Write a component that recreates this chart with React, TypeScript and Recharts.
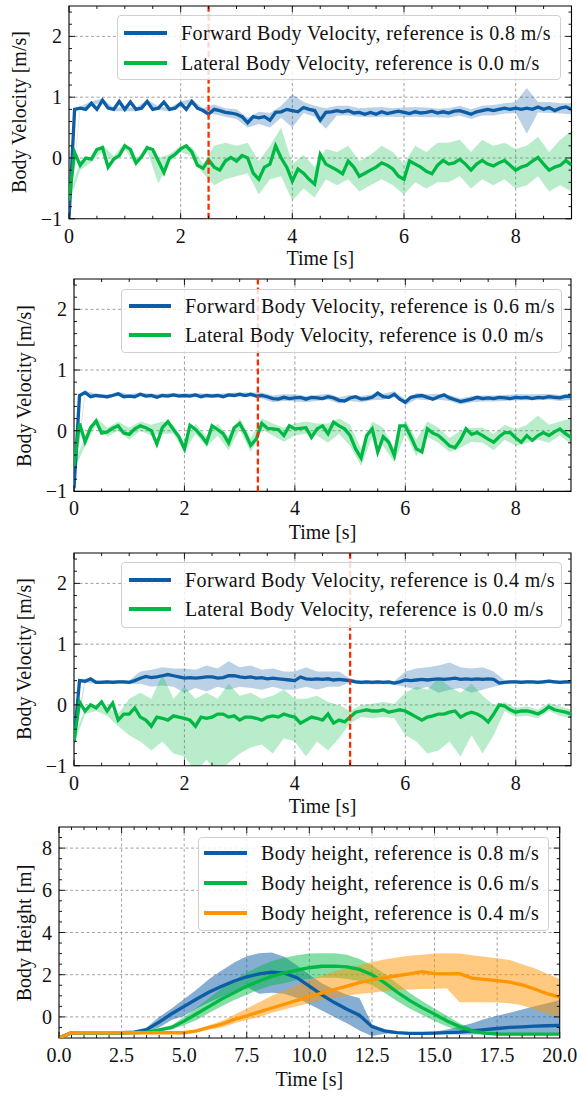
import React from "react";
import {
  ComposedChart, Line, Area, XAxis, YAxis, CartesianGrid, ReferenceLine, ReferenceArea,
} from "recharts";

const FONT = '"Liberation Serif", "Times New Roman", serif';
const BLUE = "#0C5DA5";
const GREEN = "#00B945";
const ORANGE = "#FF9500";
const RED = "#FF2C00";

// time grids: lines every 0.1 s, bands every 0.2 s, body height every 0.5 s
const grid = (n: number, dt: number) => Array.from({ length: n }, (_, i) => Math.round(i * dt * 100) / 100);
const T_LINE = grid(91, 0.1);
const T_BAND = grid(46, 0.2);
const T_H = grid(41, 0.5);

// ---------- run 1: forward reference 0.8 m/s ----------
const fwd08 = [
  -1.0, 0.8, 0.82, 0.8, 0.9, 0.8, 0.95, 0.82, 0.8, 0.93,
  0.8, 0.92, 0.8, 0.82, 0.93, 0.8, 0.82, 0.92, 0.8, 0.82,
  0.9, 0.8, 0.93, 0.82, 0.78, 0.72, 0.8, 0.78, 0.75, 0.74,
  0.72, 0.68, 0.58, 0.68, 0.66, 0.68, 0.62, 0.75, 0.76, 0.8,
  0.78, 0.76, 0.83, 0.8, 0.78, 0.62, 0.75, 0.76, 0.78, 0.76,
  0.78, 0.74, 0.75, 0.72, 0.75, 0.72, 0.76, 0.73, 0.75, 0.77,
  0.75, 0.73, 0.76, 0.74, 0.75, 0.77, 0.74, 0.76, 0.74, 0.77,
  0.78, 0.75, 0.72, 0.76, 0.78, 0.8, 0.78, 0.8, 0.82, 0.8,
  0.82, 0.8, 0.82, 0.8, 0.84, 0.8, 0.83, 0.78, 0.82, 0.84,
  0.8,
];
const fwd08Lo = [
  -1.0, 0.79, 0.86, 0.92, 0.77, 0.77, 0.77, 0.9, 0.79, 0.77,
  0.87, 0.88, 0.75, 0.72, 0.68, 0.64, 0.5, 0.56, 0.5, 0.66,
  0.5, 0.74, 0.68, 0.48, 0.7, 0.7, 0.68, 0.67, 0.68, 0.68,
  0.67, 0.68, 0.67, 0.67, 0.66, 0.7, 0.64, 0.7, 0.7, 0.73,
  0.74, 0.4, 0.75, 0.74, 0.73, 0.72,
];
const fwd08Hi = [
  -0.9, 0.85, 0.93, 0.98, 0.83, 0.83, 0.83, 0.96, 0.85, 0.83,
  0.93, 0.97, 0.82, 0.88, 0.82, 0.8, 0.66, 0.76, 0.74, 0.86,
  1.05, 0.92, 0.86, 0.82, 0.86, 0.86, 0.82, 0.83, 0.84, 0.82,
  0.83, 0.84, 0.83, 0.81, 0.82, 0.86, 0.8, 0.86, 0.87, 0.9,
  0.92, 1.15, 0.92, 0.92, 0.9, 0.9,
];
const lat08 = [
  -0.7, 0.09, -0.12, 0.0, -0.02, 0.14, 0.17, -0.15, -0.02, 0.04,
  0.2, 0.14, -0.08, 0.02, 0.17, 0.14, -0.05, -0.24, 0.0, 0.06,
  0.15, 0.2, 0.1, -0.12, -0.17, -0.03, -0.15, -0.2, -0.05, 0.01,
  -0.05, 0.04, 0.0, -0.25, -0.35, -0.15, -0.1, 0.2, 0.0, -0.15,
  -0.38, -0.18, -0.25, -0.35, -0.43, 0.06, -0.1, -0.15, -0.2, -0.26,
  -0.05, -0.15, -0.3, -0.25, -0.2, -0.15, -0.08, -0.12, -0.18, -0.3,
  -0.35, -0.05, -0.1, -0.15, -0.22, -0.26, -0.12, -0.04, -0.1, -0.08,
  -0.02, -0.1, -0.2, -0.1, -0.04, -0.1, -0.13, -0.08, -0.04, -0.12,
  -0.2, -0.15, -0.12, -0.05, 0.01, -0.1, -0.2, -0.15, -0.12, -0.04,
  -0.12,
];
const lat08Lo = [
  -0.75, -0.2, -0.07, 0.12, -0.07, 0.15, -0.13, 0.12, -0.42, -0.06,
  0.1, 0.03, -0.25, -0.45, -0.35, -0.3, -0.25, -0.6, -0.35, -0.3,
  -0.7, -0.5, -0.65, -0.35, -0.45, -0.35, -0.55, -0.45, -0.35, -0.45,
  -0.6, -0.4, -0.5, -0.4, -0.4, -0.3, -0.5, -0.35, -0.45, -0.35,
  -0.5, -0.45, -0.3, -0.55, -0.45, -0.55,
];
const lat08Hi = [
  -0.65, -0.05, 0.03, 0.22, 0.03, 0.25, -0.03, 0.22, 0.0, 0.06,
  0.2, 0.18, -0.1, 0.2, 0.25, 0.2, 0.25, -0.05, 0.2, 0.5,
  -0.1, 0.05, -0.15, 0.15, 0.1, 0.2, -0.05, 0.05, 0.2, 0.1,
  -0.1, 0.2, 0.1, 0.25, 0.25, 0.3, 0.1, 0.3, 0.2, 0.25,
  0.15, 0.2, 0.35, 0.1, 0.3, 0.45,
];

// ---------- run 2: forward reference 0.6 m/s ----------
const fwd06 = [
  -0.95, 0.58, 0.63, 0.56, 0.58, 0.57, 0.56, 0.58, 0.61, 0.56,
  0.57, 0.56, 0.6, 0.57, 0.58, 0.55, 0.58, 0.57, 0.59, 0.57,
  0.58, 0.57, 0.59, 0.56, 0.58, 0.57, 0.58, 0.56, 0.59, 0.58,
  0.6, 0.58, 0.6, 0.57, 0.58, 0.56, 0.53, 0.52, 0.55, 0.53,
  0.54, 0.55, 0.52, 0.55, 0.54, 0.53, 0.56, 0.54, 0.5, 0.49,
  0.54, 0.56, 0.52, 0.53, 0.55, 0.62, 0.56, 0.55, 0.6, 0.52,
  0.47, 0.55, 0.57, 0.58, 0.55, 0.52, 0.56, 0.59, 0.54, 0.51,
  0.48, 0.5, 0.52, 0.55, 0.53, 0.54, 0.53, 0.55, 0.54, 0.53,
  0.55, 0.54, 0.55, 0.53, 0.55, 0.54, 0.56, 0.55, 0.54, 0.57,
  0.56,
];
const fwd06Lo = [
  -0.95, 0.59, 0.55, 0.53, 0.58, 0.54, 0.57, 0.55, 0.55, 0.56,
  0.55, 0.56, 0.55, 0.55, 0.56, 0.57, 0.57, 0.53, 0.47, 0.49,
  0.48, 0.47, 0.49, 0.51, 0.45, 0.49, 0.47, 0.5, 0.51, 0.55,
  0.42, 0.52, 0.5, 0.51, 0.49, 0.43, 0.47, 0.48, 0.48, 0.49,
  0.5, 0.5, 0.5, 0.51, 0.49, 0.51,
];
const fwd06Hi = [
  -0.85, 0.66, 0.61, 0.59, 0.64, 0.6, 0.63, 0.61, 0.61, 0.62,
  0.61, 0.62, 0.61, 0.61, 0.62, 0.63, 0.63, 0.63, 0.58, 0.6,
  0.6, 0.57, 0.59, 0.61, 0.55, 0.59, 0.57, 0.6, 0.61, 0.65,
  0.52, 0.62, 0.6, 0.61, 0.59, 0.53, 0.57, 0.58, 0.58, 0.59,
  0.6, 0.6, 0.6, 0.61, 0.59, 0.61,
];
const lat06 = [
  -0.6, 0.12, -0.18, 0.05, 0.16, -0.04, -0.02, 0.04, 0.08, -0.04,
  -0.06, 0.03, 0.08, 0.05, 0.0, -0.22, 0.05, 0.15, 0.02, -0.1,
  -0.3, 0.09, 0.02, -0.08, -0.2, 0.08, 0.02, -0.05, -0.2, 0.05,
  0.12, -0.04, -0.24, -0.14, 0.12, 0.04, 0.03, 0.02, -0.08, 0.08,
  0.03, 0.04, 0.05, -0.11, 0.03, 0.08, -0.05, 0.14, 0.08, 0.03,
  -0.08, -0.3, -0.45, -0.08, 0.03, -0.35, -0.1, -0.19, -0.41, 0.08,
  0.08, -0.1, -0.3, -0.35, 0.03, -0.04, -0.08, -0.16, -0.25, -0.28,
  -0.15, 0.03, -0.06, -0.03, -0.08, -0.14, -0.19, -0.1, -0.03, -0.03,
  -0.12, -0.19, -0.08, -0.16, -0.08, -0.03, -0.08, -0.02, 0.03, -0.05,
  -0.11,
];
const lat06Lo = [
  -0.65, -0.25, 0.1, -0.1, 0.0, -0.15, 0.0, -0.08, -0.05, -0.05,
  -0.35, -0.05, -0.27, -0.08, -0.32, 0.02, -0.35, 0.02, -0.08, -0.18,
  -0.08, -0.05, -0.08, -0.2, -0.05, -0.25, -0.58, -0.1, -0.25, -0.52,
  -0.05, -0.42, -0.1, -0.2, -0.35, -0.28, -0.18, -0.2, -0.32, -0.15,
  -0.25, -0.2, -0.15, -0.2, -0.08, -0.22,
];
const lat06Hi = [
  -0.55, -0.1, 0.22, 0.05, 0.15, 0.05, 0.15, 0.1, 0.15, 0.1,
  -0.2, 0.12, -0.1, 0.12, -0.1, 0.2, -0.12, 0.2, 0.12, 0.05,
  0.12, 0.15, 0.12, 0.12, 0.2, 0.1, -0.3, 0.15, 0.05, -0.3,
  0.18, -0.15, 0.15, 0.05, -0.12, 0.0, 0.05, 0.05, -0.05, 0.1,
  0.02, 0.1, 0.25, 0.1, 0.15, 0.2,
];

// ---------- run 3: forward reference 0.4 m/s ----------
const fwd04 = [
  -0.6, 0.4, 0.39, 0.43, 0.37, 0.37, 0.38, 0.37, 0.38, 0.38,
  0.37, 0.4, 0.44, 0.47, 0.45, 0.46, 0.48, 0.5, 0.48, 0.46,
  0.44, 0.45, 0.44, 0.45, 0.46, 0.46, 0.44, 0.45, 0.48, 0.48,
  0.46, 0.45, 0.46, 0.44, 0.45, 0.43, 0.44, 0.43, 0.42, 0.41,
  0.4, 0.46, 0.43, 0.42, 0.43, 0.42, 0.43, 0.41, 0.42, 0.41,
  0.4, 0.38, 0.37, 0.38, 0.37, 0.38, 0.37, 0.38, 0.36, 0.38,
  0.41, 0.4, 0.41, 0.42, 0.41, 0.42, 0.43, 0.42, 0.43, 0.44,
  0.42, 0.43, 0.42, 0.43, 0.42, 0.43, 0.42, 0.36, 0.37, 0.38,
  0.38, 0.37, 0.38, 0.38, 0.37, 0.38, 0.39, 0.38, 0.37, 0.38,
  0.38,
];
const fwd04Lo = [
  -0.65, 0.36, 0.35, 0.35, 0.35, 0.34, 0.35, 0.3, 0.32, 0.3,
  0.2, 0.28, 0.22, 0.3, 0.25, 0.3, 0.28, 0.25, 0.3, 0.25,
  0.25, 0.3, 0.25, 0.3, 0.3, 0.37, 0.34, 0.34, 0.34, 0.33,
  0.3, 0.25, 0.3, 0.2, 0.25, 0.28, 0.2, 0.25, 0.3, 0.34,
  0.35, 0.35, 0.34, 0.36, 0.34, 0.35,
];
const fwd04Hi = [
  -0.55, 0.43, 0.4, 0.41, 0.41, 0.4, 0.55, 0.58, 0.62, 0.6,
  0.6, 0.58, 0.65, 0.6, 0.72, 0.62, 0.65, 0.58, 0.6, 0.55,
  0.55, 0.62, 0.55, 0.55, 0.55, 0.43, 0.4, 0.4, 0.4, 0.39,
  0.55, 0.6, 0.62, 0.65, 0.7, 0.62, 0.6, 0.62, 0.55, 0.4,
  0.41, 0.41, 0.4, 0.42, 0.4, 0.41,
];
const lat04 = [
  -0.6, 0.05, -0.1, 0.0, -0.05, 0.05, -0.1, 0.03, -0.25, -0.15,
  -0.15, -0.05, -0.2, -0.25, -0.35, -0.2, -0.22, -0.25, -0.18, -0.2,
  -0.22, -0.25, -0.35, -0.2, -0.22, -0.2, -0.15, -0.15, -0.2, -0.18,
  -0.25, -0.2, -0.2, -0.22, -0.25, -0.2, -0.18, -0.2, -0.15, -0.18,
  -0.2, -0.3, -0.25, -0.2, -0.22, -0.25, -0.15, -0.3, -0.25, -0.28,
  -0.2, -0.12, -0.1, -0.08, -0.1, -0.1, -0.08, -0.12, -0.1, -0.08,
  -0.1, -0.15, -0.2, -0.25, -0.2, -0.18, -0.15, -0.15, -0.12, -0.1,
  -0.2, -0.15, -0.12, -0.15, -0.2, -0.28, -0.15, 0.0, -0.02, -0.08,
  -0.12, -0.1, -0.1, -0.12, -0.15, -0.1, -0.03, -0.08, -0.1, -0.12,
  -0.15,
];
const lat04Lo = [
  -0.65, -0.15, -0.1, -0.18, -0.35, -0.5, -0.6, -0.75, -0.6, -0.8,
  -0.85, -1.1, -0.9, -1.15, -0.95, -0.8, -0.7, -0.65, -0.8, -0.55,
  -0.6, -0.85, -0.6, -0.75, -0.55, -0.3, -0.2, -0.22, -0.2, -0.22,
  -0.5, -0.6, -0.8, -0.75, -0.6, -0.85, -0.5, -0.8, -0.5, -0.1,
  -0.2, -0.18, -0.22, -0.1, -0.18, -0.22,
];
const lat04Hi = [
  -0.55, -0.05, 0.0, -0.05, -0.15, 0.1, 0.2, 0.1, 0.5, 0.1,
  0.3, 0.1, 0.2, 0.1, 0.35, 0.15, 0.2, 0.1, 0.15, 0.25,
  0.1, 0.1, 0.15, 0.05, 0.0, -0.1, 0.0, 0.02, 0.05, 0.02,
  0.2, 0.3, 0.25, 0.45, 0.3, 0.2, 0.35, 0.15, 0.0, 0.05,
  -0.05, -0.02, -0.08, 0.03, -0.02, -0.08,
];

// ---------- body height runs (t = 0 .. 20 s) ----------
const h08 = [
  -1.0, -0.75, -0.75, -0.75, -0.75, -0.75, -0.72, -0.6, -0.25, 0.15,
  0.5, 0.85, 1.18, 1.45, 1.7, 1.9, 2.04, 2.12, 2.08, 1.86,
  1.46, 1.04, 0.68, 0.36, 0.08, -0.46, -0.66, -0.75, -0.78, -0.78,
  -0.77, -0.75, -0.72, -0.66, -0.6, -0.55, -0.5, -0.47, -0.44, -0.42,
  -0.4,
];
const h08Lo = [
  -1.0, -0.78, -0.78, -0.78, -0.78, -0.78, -0.75, -0.7, -0.5, -0.15,
  0.05, 0.4, 0.7, 0.95, 1.2, 1.4, 1.1, 1.15, 1.1, 0.9,
  0.6, 0.3, 0.0, -0.3, -0.65, -0.9, -0.8, -0.8, -0.83, -0.83,
  -0.82, -0.82, -0.83, -0.83, -0.84, -0.84, -0.85, -0.85, -0.85, -0.85,
  -0.85,
];
const h08Hi = [
  -0.95, -0.72, -0.72, -0.72, -0.72, -0.72, -0.69, -0.5, 0.0, 0.4,
  0.85, 1.3, 1.8, 2.2, 2.58, 2.88, 3.02, 3.05, 2.85, 2.45,
  2.0, 1.6, 1.3, 1.05, 0.9, -0.35, -0.6, -0.7, -0.72, -0.72,
  -0.7, -0.6, -0.45, -0.3, -0.1, 0.05, 0.2, 0.35, 0.5, 0.65,
  0.8,
];
const h06 = [
  -1.0, -0.75, -0.75, -0.75, -0.75, -0.75, -0.75, -0.72, -0.62, -0.5,
  -0.2, 0.15, 0.5, 0.85, 1.15, 1.45, 1.7, 1.92, 2.09, 2.22,
  2.33, 2.4, 2.41, 2.37, 2.25, 2.0, 1.62, 1.18, 0.78, 0.44,
  0.13, -0.19, -0.46, -0.66, -0.77, -0.81, -0.82, -0.82, -0.82, -0.82,
  -0.82,
];
const h06Lo = [
  -1.0, -0.78, -0.78, -0.78, -0.78, -0.78, -0.78, -0.76, -0.68, -0.6,
  -0.4, -0.15, 0.2, 0.5, 0.8, 1.05, 1.3, 1.5, 1.6, 1.75,
  1.8, 1.85, 1.85, 1.8, 1.7, 1.5, 1.15, 0.75, 0.4, 0.1,
  -0.2, -0.45, -0.65, -0.78, -0.85, -0.87, -0.87, -0.87, -0.87, -0.87,
  -0.87,
];
const h06Hi = [
  -0.95, -0.72, -0.72, -0.72, -0.72, -0.72, -0.72, -0.68, -0.55, -0.4,
  0.0, 0.45, 0.9, 1.35, 1.75, 2.1, 2.4, 2.65, 2.8, 2.92,
  3.0, 3.02, 3.02, 2.95, 2.75, 2.45, 2.05, 1.6, 1.15, 0.75,
  0.4, 0.05, -0.3, -0.55, -0.7, -0.77, -0.78, -0.78, -0.78, -0.78,
  -0.78,
];
const h04 = [
  -1.0, -0.75, -0.75, -0.75, -0.75, -0.75, -0.75, -0.75, -0.75, -0.75,
  -0.75, -0.66, -0.5, -0.35, -0.12, 0.05, 0.24, 0.42, 0.6, 0.78,
  0.96, 1.13, 1.3, 1.46, 1.62, 1.75, 1.86, 1.95, 2.04, 2.14,
  2.05, 2.04, 2.05, 1.84, 1.78, 1.72, 1.65, 1.52, 1.32, 1.1,
  0.94,
];
const h04Lo = [
  -1.0, -0.78, -0.78, -0.78, -0.78, -0.78, -0.78, -0.78, -0.78, -0.78,
  -0.78, -0.72, -0.6, -0.5, -0.3, -0.15, 0.0, 0.2, 0.35, 0.5,
  0.65, 0.8, 0.9, 1.0, 1.08, 1.15, 1.22, 1.27, 1.3, 1.32,
  1.34, 1.35, 0.7, 0.7, 0.7, 0.68, 0.65, 0.55, 0.35, 0.15,
  0.0,
];
const h04Hi = [
  -0.95, -0.72, -0.72, -0.72, -0.72, -0.72, -0.72, -0.72, -0.72, -0.72,
  -0.72, -0.6, -0.4, -0.2, 0.1, 0.4, 0.7, 1.0, 1.25, 1.5,
  1.75, 1.95, 2.15, 2.3, 2.45, 2.6, 2.72, 2.82, 2.9, 2.95,
  3.0, 3.02, 3.0, 2.92, 2.85, 2.78, 2.7, 2.5, 2.3, 2.05,
  1.8,
];

const toLine = (ts: number[], vs: number[]) => vs.map((v, i) => ({ t: ts[i], v }));
const toBand = (ts: number[], lo: number[], hi: number[]) => lo.map((l, i) => ({ t: ts[i], r: [l, hi[i]] }));

const steps = (from: number, to: number, d: number) => {
  const out: number[] = [];
  for (let v = from; v <= to + 1e-9; v += d) out.push(Math.round(v * 100) / 100);
  return out;
};

type Geo = { left: number; right: number; top: number; bottom: number };

const isIn = (arr: number[], v: number) => arr.some((m) => Math.abs(m - v) < 1e-6);
const fmtInt = (v: number) => (v < 0 ? "\u2212" + Math.abs(v) : String(v));
const fmt1 = (v: number) => v.toFixed(1);

function makeXTick(major: number[], plotH: number, fmt: (v: number) => string) {
  return (p: any) => {
    const { x, y, payload } = p;
    const big = isIn(major, payload.value);
    const len = big ? 6 : 3;
    return (
      <g>
        <line x1={x} x2={x} y1={y} y2={y - len} stroke="#000" strokeWidth={0.9} />
        <line x1={x} x2={x} y1={y - plotH} y2={y - plotH + len} stroke="#000" strokeWidth={0.9} />
        {big && (
          <text x={x} y={y + 17} textAnchor="middle" dominantBaseline="central" fontFamily={FONT} fontSize={20} fill="#111">
            {fmt(payload.value)}
          </text>
        )}
      </g>
    );
  };
}

function makeYTick(major: number[], plotW: number, fmt: (v: number) => string) {
  return (p: any) => {
    const { x, y, payload } = p;
    const big = isIn(major, payload.value);
    const len = big ? 6 : 3;
    return (
      <g>
        <line x1={x} x2={x + len} y1={y} y2={y} stroke="#000" strokeWidth={0.9} />
        <line x1={x + plotW - len} x2={x + plotW} y1={y} y2={y} stroke="#000" strokeWidth={0.9} />
        {big && (
          <text x={x - 7} y={y} textAnchor="end" dominantBaseline="central" fontFamily={FONT} fontSize={20} fill="#111">
            {fmt(payload.value)}
          </text>
        )}
      </g>
    );
  };
}

type LegendItem = { color: string; label: string };

function LegendBox({ left, top, width, height, rows, items, lineX, lineW, textX }: {
  left: number; top: number; width: number; height: number; rows: number[];
  items: LegendItem[]; lineX: number; lineW: number; textX: number;
}) {
  return (
    <div style={{
      position: "absolute", left, top, width, height, boxSizing: "border-box",
      border: "1.2px solid #d0d0d0", borderRadius: 4, background: "rgba(255,255,255,0.82)",
    }}>
      {items.map((it, i) => (
        <React.Fragment key={it.label}>
          <div style={{ position: "absolute", left: lineX, top: rows[i] - 2, width: lineW, height: 4, background: it.color }} />
          <div style={{
            position: "absolute", left: textX, top: rows[i] - 13, height: 26, lineHeight: "26px",
            fontFamily: FONT, fontSize: 20, letterSpacing: 0.4, whiteSpace: "nowrap", color: "#111",
          }}>{it.label}</div>
        </React.Fragment>
      ))}
    </div>
  );
}

function Title({ x, y, text, vertical }: { x: number; y: number; text: string; vertical?: boolean }) {
  return (
    <div style={{
      position: "absolute", left: x, top: y, fontFamily: FONT, fontSize: 20, color: "#111", whiteSpace: "nowrap",
      lineHeight: "22px", transform: `translate(-50%, -50%)${vertical ? " rotate(-90deg)" : ""}`,
    }}>{text}</div>
  );
}

const X_AXIS_H = 30;
const Y_AXIS_W = 40;

function chartBox(g: Geo) {
  const T = g.top - 5;
  const H = g.bottom - g.top + 5 + X_AXIS_H;
  return {
    T, H,
    margin: { top: 5, bottom: 0, left: g.left - Y_AXIS_W, right: 577 - g.right },
    plotW: g.right - g.left, plotH: g.bottom - g.top,
  };
}

type VelProps = {
  g: Geo; fwd: number[]; fwdLo: number[]; fwdHi: number[];
  lat: number[]; latLo: number[]; latHi: number[]; switchT: number; refLabel: string;
  legend: { left: number; top: number; width: number; height: number; rows: number[]; lineX: number; lineW: number; textX: number };
  yTitle: { x: number; y: number };
};

const VX_TICKS = steps(0, 8.5, 0.5);
const VX_MAJOR = [0, 2, 4, 6, 8];
const VY_TICKS = steps(-1, 2.4, 0.2);
const VY_MAJOR = [-1, 0, 1, 2];

function VelocityPanel(p: VelProps) {
  const b = chartBox(p.g);
  return (
    <>
      <div style={{ position: "absolute", left: 0, top: b.T }}>
        <ComposedChart width={577} height={b.H} margin={b.margin}>
          <CartesianGrid horizontalValues={[0, 1, 2]} verticalValues={[2, 4, 6, 8]} stroke="#8a8a8a" strokeWidth={0.8} strokeDasharray="3 2.5" />
          <XAxis type="number" dataKey="t" domain={[0, 9]} ticks={VX_TICKS} interval={0} height={X_AXIS_H}
            tickSize={0} tickMargin={0} tickLine={false} axisLine={false} allowDataOverflow
            tick={makeXTick(VX_MAJOR, b.plotH, fmtInt)} />
          <YAxis type="number" domain={[-1, 2.5]} ticks={VY_TICKS} interval={0} width={Y_AXIS_W}
            tickSize={0} tickMargin={0} tickLine={false} axisLine={false} allowDataOverflow
            tick={makeYTick(VY_MAJOR, b.plotW, fmtInt)} />
          <Area data={toBand(T_BAND, p.fwdLo, p.fwdHi)} dataKey="r" type="linear" stroke="none" fill={BLUE} fillOpacity={0.28} isAnimationActive={false} />
          <Area data={toBand(T_BAND, p.latLo, p.latHi)} dataKey="r" type="linear" stroke="none" fill={GREEN} fillOpacity={0.28} isAnimationActive={false} />
          <Line data={toLine(T_LINE, p.fwd)} dataKey="v" type="linear" stroke={BLUE} strokeWidth={3.3} dot={false} isAnimationActive={false} />
          <Line data={toLine(T_LINE, p.lat)} dataKey="v" type="linear" stroke={GREEN} strokeWidth={3.3} dot={false} isAnimationActive={false} />
          <ReferenceLine x={p.switchT} stroke={RED} strokeWidth={2.3} strokeDasharray="6 3" />
          <ReferenceArea x1={0} x2={9} y1={-1} y2={2.5} fill="none" stroke="#000" strokeWidth={1.1} />
        </ComposedChart>
      </div>
      <LegendBox {...p.legend} items={[
        { color: BLUE, label: `Forward Body Velocity, reference is ${p.refLabel} m/s` },
        { color: GREEN, label: "Lateral Body Velocity, reference is 0.0 m/s" },
      ]} />
      <Title x={p.yTitle.x} y={p.yTitle.y} text="Body Velocity [m/s]" vertical />
      <Title x={(p.g.left + p.g.right) / 2} y={p.g.bottom + 40} text="Time [s]" />
    </>
  );
}

const HX_TICKS = steps(0, 20, 0.5);
const HX_MAJOR = [0, 2.5, 5, 7.5, 10, 12.5, 15, 17.5, 20];
const HY_TICKS = steps(-0.5, 8.5, 0.5);
const HY_MAJOR = [0, 2, 4, 6, 8];

function HeightPanel() {
  const g: Geo = { left: 59, right: 559.7, top: 827.3, bottom: 1038.3 };
  const b = chartBox(g);
  const runs = [
    { mean: h08, lo: h08Lo, hi: h08Hi, color: BLUE, op: 0.5 },
    { mean: h06, lo: h06Lo, hi: h06Hi, color: GREEN, op: 0.48 },
    { mean: h04, lo: h04Lo, hi: h04Hi, color: ORANGE, op: 0.5 },
  ];
  return (
    <>
      <div style={{ position: "absolute", left: 0, top: b.T }}>
        <ComposedChart width={577} height={b.H} margin={b.margin}>
          <CartesianGrid horizontalValues={[0, 2, 4, 6, 8]} verticalValues={[2.5, 5, 7.5, 10, 12.5, 15, 17.5]} stroke="#8a8a8a" strokeWidth={0.8} strokeDasharray="3 2.5" />
          <XAxis type="number" dataKey="t" domain={[0, 20]} ticks={HX_TICKS} interval={0} height={X_AXIS_H}
            tickSize={0} tickMargin={0} tickLine={false} axisLine={false} allowDataOverflow
            tick={makeXTick(HX_MAJOR, b.plotH, fmt1)} />
          <YAxis type="number" domain={[-1, 9]} ticks={HY_TICKS} interval={0} width={Y_AXIS_W}
            tickSize={0} tickMargin={0} tickLine={false} axisLine={false} allowDataOverflow
            tick={makeYTick(HY_MAJOR, b.plotW, fmtInt)} />
          {runs.map((r, i) => (
            <Area key={`band-${i}`} data={toBand(T_H, r.lo, r.hi)} dataKey="r" type="linear" stroke="none" fill={r.color} fillOpacity={r.op} isAnimationActive={false} />
          ))}
          {runs.map((r, i) => (
            <Line key={`line-${i}`} data={toLine(T_H, r.mean)} dataKey="v" type="linear" stroke={r.color} strokeWidth={3.3} dot={false} isAnimationActive={false} />
          ))}
          <ReferenceArea x1={0} x2={20} y1={-1} y2={9} fill="none" stroke="#000" strokeWidth={1.1} />
        </ComposedChart>
      </div>
      <LegendBox left={198} top={837} width={351} height={94} rows={[15, 45, 75]} lineX={5} lineW={43} textX={62}
        items={[
          { color: BLUE, label: "Body height, reference is 0.8 m/s" },
          { color: GREEN, label: "Body height, reference is 0.6 m/s" },
          { color: ORANGE, label: "Body height, reference is 0.4 m/s" },
        ]} />
      <Title x={24} y={933} text="Body Height [m]" vertical />
      <Title x={(g.left + g.right) / 2} y={g.bottom + 41} text="Time [s]" />
    </>
  );
}

export default function App() {
  return (
    <div style={{ position: "absolute", left: 0, top: 0, width: 577, height: 1096, background: "#fff", overflow: "hidden" }}>
      <VelocityPanel
        g={{ left: 69, right: 571.5, top: 5.5, bottom: 218.3 }}
        fwd={fwd08} fwdLo={fwd08Lo} fwdHi={fwd08Hi} lat={lat08} latLo={lat08Lo} latHi={lat08Hi}
        switchT={2.5} refLabel="0.8"
        legend={{ left: 117, top: 15, width: 444, height: 65, rows: [17, 47], lineX: 6, lineW: 43, textX: 63 }}
        yTitle={{ x: 19, y: 112 }}
      />
      <VelocityPanel
        g={{ left: 74, right: 571, top: 279.3, bottom: 491.7 }}
        fwd={fwd06} fwdLo={fwd06Lo} fwdHi={fwd06Hi} lat={lat06} latLo={lat06Lo} latHi={lat06Hi}
        switchT={3.33} refLabel="0.6"
        legend={{ left: 121, top: 289, width: 441, height: 64, rows: [16, 45], lineX: 7, lineW: 42, textX: 63 }}
        yTitle={{ x: 24, y: 386 }}
      />
      <VelocityPanel
        g={{ left: 74, right: 571, top: 553, bottom: 765.7 }}
        fwd={fwd04} fwdLo={fwd04Lo} fwdHi={fwd04Hi} lat={lat04} latLo={lat04Lo} latHi={lat04Hi}
        switchT={5.0} refLabel="0.4"
        legend={{ left: 121, top: 562, width: 441, height: 66, rows: [17, 46], lineX: 7, lineW: 42, textX: 63 }}
        yTitle={{ x: 24, y: 659 }}
      />
      <HeightPanel />
    </div>
  );
}
